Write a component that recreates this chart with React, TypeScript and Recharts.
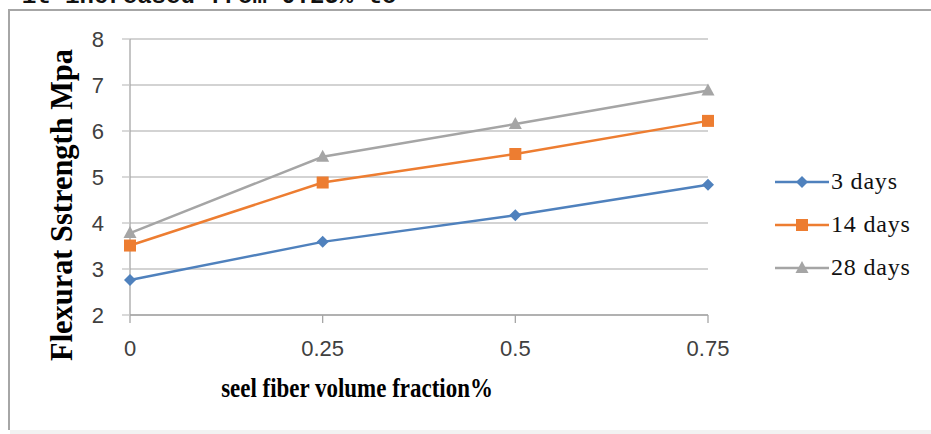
import { LineChart, Line, XAxis, YAxis, CartesianGrid } from "recharts"

const fractions = [0, 0.25, 0.5, 0.75]
const days3 = [2.76, 3.59, 4.17, 4.83]
const days14 = [3.51, 4.88, 5.5, 6.22]
const days28 = [3.78, 5.44, 6.15, 6.88]
const yTicks = [2, 3, 4, 5, 6, 7, 8]

const seriesNames = ["3 days", "14 days", "28 days"]
const colors = ["#4f81bd", "#ed7d31", "#a5a5a5"]

const data = fractions.map((f, i) => ({
  f,
  d3: days3[i],
  d14: days14[i],
  d28: days28[i],
}))

const Diamond = ({ cx, cy, color }: any) => (
  <path d={`M${cx},${cy - 6} L${cx + 6},${cy} L${cx},${cy + 6} L${cx - 6},${cy} Z`} fill={color} />
)
const Square = ({ cx, cy, color }: any) => (
  <rect x={cx - 6} y={cy - 6} width={12} height={12} fill={color} />
)
const Triangle = ({ cx, cy, color }: any) => (
  <path d={`M${cx},${cy - 7} L${cx + 6.5},${cy + 5} L${cx - 6.5},${cy + 5} Z`} fill={color} />
)
const markers = [Diamond, Square, Triangle]

const serif = "'Liberation Serif', 'Times New Roman', serif"
const sans = "'Liberation Sans', Arial, sans-serif"

function ChartLegend() {
  return (
    <div style={{ position: "absolute", left: 775, top: 160 }}>
      {seriesNames.map((name, i) => {
        const M = markers[i]
        return (
          <div key={name} style={{ display: "flex", alignItems: "center", height: 43 }}>
            <svg width={54} height={16}>
              <line x1={0} y1={8} x2={54} y2={8} stroke={colors[i]} strokeWidth={2.5} />
              <M cx={27} cy={8} color={colors[i]} />
            </svg>
            <span style={{ fontFamily: serif, fontSize: 24, color: "#111", marginLeft: 2, letterSpacing: 0.8 }}>
              {name}
            </span>
          </div>
        )
      })}
    </div>
  )
}

export default function App() {
  return (
    <div style={{ position: "absolute", left: 0, top: 0, width: 931, height: 434, overflow: "hidden", background: "#fff" }}>
      {/* fragment of the page text above the figure, cut off as in the scan */}
      <div
        style={{
          position: "absolute",
          left: 22,
          top: -17,
          fontFamily: "'Liberation Mono', 'Courier New', monospace",
          fontWeight: "bold",
          fontSize: 24,
          color: "#111",
          whiteSpace: "pre",
        }}
      >
        it increased from 0.25% to
      </div>
      <div
        style={{
          position: "absolute",
          left: 8,
          top: 9,
          width: 923,
          height: 421,
          borderLeft: "2px solid #a6a6a6",
          borderTop: "2px solid #a6a6a6",
          boxSizing: "border-box",
        }}
      />
      <div style={{ position: "absolute", left: 10, top: 430, width: 921, height: 4, background: "#f2f2f2" }} />
      <div style={{ position: "absolute", left: 0, top: 0 }}>
        <LineChart width={931} height={434} data={data} margin={{ top: 39, right: 223, bottom: 89, left: 70 }}>
          <CartesianGrid vertical={false} stroke="#c4c4c4" strokeWidth={1.3} />
          <XAxis
            type="number"
            dataKey="f"
            domain={[0, 0.75]}
            ticks={fractions}
            interval={0}
            height={30}
            axisLine={{ stroke: "#a6a6a6", strokeWidth: 1.3 }}
            tickLine={{ stroke: "#a6a6a6", strokeWidth: 1.3 }}
            tickSize={8}
            tickMargin={17}
            tick={{ fill: "#404040", fontSize: 22, fontFamily: sans }}
          />
          <YAxis
            type="number"
            domain={[2, 8]}
            ticks={yTicks}
            interval={0}
            width={60}
            axisLine={{ stroke: "#a6a6a6", strokeWidth: 1.3 }}
            tickLine={{ stroke: "#c4c4c4", strokeWidth: 1.3 }}
            tickSize={8}
            tickMargin={18}
            tick={{ fill: "#404040", fontSize: 22, fontFamily: sans }}
          />
          {[
            { key: "d3", i: 0 },
            { key: "d14", i: 1 },
            { key: "d28", i: 2 },
          ].map(({ key, i }) => {
            const M = markers[i]
            return (
              <Line
                key={key}
                type="linear"
                dataKey={key}
                name={seriesNames[i]}
                stroke={colors[i]}
                strokeWidth={2.5}
                isAnimationActive={false}
                dot={(p: any) => <M key={`${key}-${p.index}`} cx={p.cx} cy={p.cy} color={colors[i]} />}
                activeDot={false}
              />
            )
          })}
        </LineChart>
      </div>
      <ChartLegend />
      <div
        style={{
          position: "absolute",
          left: 61,
          top: 205,
          transform: "translate(-50%, -50%) rotate(-90deg) scaleX(0.95)",
          whiteSpace: "nowrap",
          fontFamily: serif,
          fontWeight: "bold",
          fontSize: 32,
          color: "#000",
        }}
      >
        Flexurat Sstrength Mpa
      </div>
      <div
        style={{
          position: "absolute",
          left: 357,
          top: 388,
          transform: "translate(-50%, -50%) scaleX(0.85)",
          whiteSpace: "nowrap",
          fontFamily: serif,
          fontWeight: "bold",
          fontSize: 27,
          color: "#000",
        }}
      >
        seel fiber volume fraction%
      </div>
    </div>
  )
}
